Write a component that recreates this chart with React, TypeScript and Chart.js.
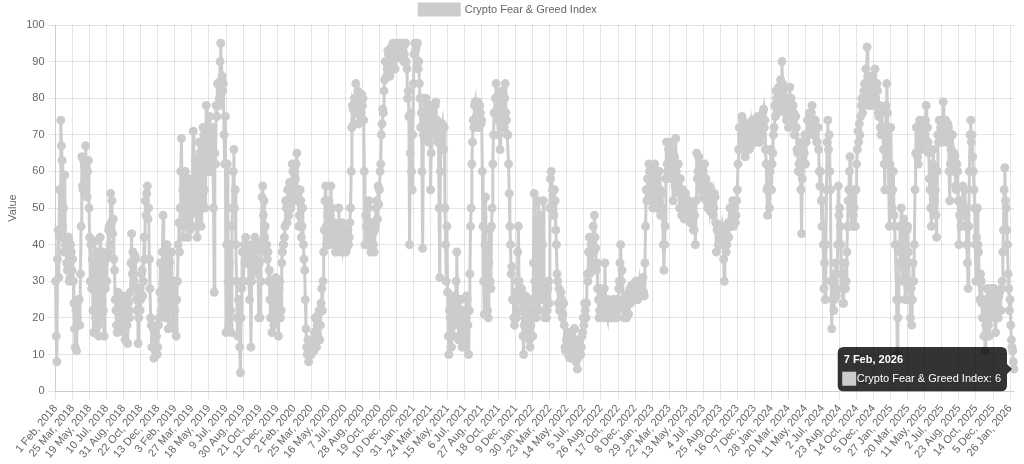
import React, { useEffect, useRef } from 'react';
import { Chart, registerables } from 'chart.js';

Chart.register(...registerables);

// ---- Categories (daily dates) ----
const START_DATE = '2018-02-01';
const END_DATE = '2026-02-07';
const MISSING_DATES = ['2018-04-14', '2018-04-15', '2018-04-16', '2025-01-01'];
const MONTHS = ['Jan', 'Feb', 'Mar', 'Apr', 'May', 'Jun', 'Jul', 'Aug', 'Sep', 'Oct', 'Nov', 'Dec'];
const MAX_X_TICKS = 57; // gives one shown date every 52 days
const SAMPLE_STEP = 2; // one reading every 2 days

const SERIES_NAME = 'Crypto Fear & Greed Index';

// ---- Series values (one reading every 2 days) ----
const FG_2018 = [
  30, 15, 8, 36, 44, 31, 55, 42, 74, 67, 63, 45, 50, 38, 59, 40, 40, 35, 33, 41, 42, 30, 31, 40, 38, 33,
  36, 30, 24, 17, 12, 22, 11, 20, 18, 25, 25, 18, 32, 45, 64, 56, 55, 63, 62, 54, 67, 60, 53, 60, 63, 50,
  42, 30, 40, 28, 36, 22, 16, 33, 41, 20, 25, 38, 30, 18, 15, 35, 42, 24, 20, 38, 35, 22, 15, 30, 28, 36,
  30, 37, 38, 44, 45, 40, 54, 46, 52, 43, 47, 36, 33, 25, 22, 18, 16, 27, 25, 17, 18, 26, 26, 17, 20, 25,
  22, 16, 14, 25, 26, 18, 13, 24, 22, 20, 27, 35, 43, 32, 38, 29, 30, 37, 36, 25, 22, 28, 13, 20, 28, 22,
  25, 32, 33, 26, 30, 42, 36, 52, 48, 54, 56, 47, 50, 36, 28, 20, 18, 12, 12, 17, 9, 14, 11, 18, 15, 10,
  12, 18, 20, 27, 35, 22, 25, 38, 48, 35, 30, 20, 22, 36, 40, 25, 17, 30, 35, 22, 24, 38, 18, 28, 30, 17,
];
const FG_2019 = [
  22, 30, 15, 25, 30, 40, 46, 38, 50, 60, 69, 50, 55, 42, 45, 56, 60, 48, 50, 58, 42, 52, 57, 44, 48, 55,
  45, 58, 71, 55, 50, 63, 60, 45, 42, 58, 55, 68, 65, 52, 45, 60, 62, 72, 70, 55, 50, 68, 78, 65, 72, 60,
  65, 75, 72, 60, 60, 72, 70, 50, 27, 65, 62, 78, 75, 84, 84, 78, 80, 90, 95, 85, 86, 82, 84, 70, 62, 75,
  16, 40, 62, 30, 18, 35, 40, 22, 16, 45, 50, 60, 66, 50, 55, 40, 30, 20, 15, 25, 20, 12, 5, 20, 28, 38,
  30, 38, 40, 35, 42, 36, 35, 40, 38, 30, 25, 35, 12, 30, 40, 34, 33, 40, 42, 36, 38, 41, 40, 32, 20, 35,
  20, 30, 40, 53, 56, 48, 52, 42, 45, 38, 40, 36, 38, 30, 33, 25, 20, 30, 16, 25, 28, 18, 20, 30, 31, 22,
  25, 20, 15, 28, 30, 20, 22, 35, 38, 40, 40, 42, 45, 52, 50, 46, 55, 50, 48, 57, 56, 50, 52, 62, 60, 53,
];
const FG_2020 = [
  52, 60, 58, 62, 65, 52, 55, 45, 48, 55, 52, 42, 45, 50, 40, 36, 33, 25, 17, 12, 10, 14, 8, 11, 12, 10,
  10, 13, 14, 11, 11, 16, 20, 12, 12, 18, 15, 21, 22, 14, 18, 24, 28, 22, 30, 38, 44, 52, 56, 45, 40, 48,
  45, 52, 40, 48, 56, 44, 50, 41, 42, 46, 40, 38, 38, 44, 45, 40, 50, 44, 42, 38, 40, 46, 44, 39, 40, 43,
  42, 38, 39, 43, 44, 40, 42, 46, 50, 60, 72, 78, 77, 73, 80, 76, 84, 78, 78, 82, 73, 79, 80, 75, 76, 81,
  78, 80, 74, 60, 40, 48, 45, 40, 42, 50, 52, 44, 44, 38, 40, 46, 43, 40, 38, 44, 45, 50, 52, 47, 56, 51,
  55, 60, 62, 70, 73, 77, 76, 82, 85, 90, 90, 86, 88, 93, 92, 87, 86, 92, 94, 89, 90, 95, 93, 88, 88, 94,
  92, 95, 95, 91, 94, 95, 95, 92, 93, 95, 95, 90, 92, 95, 95, 90, 88, 80, 82, 75, 40, 65, 76, 60, 55, 70,
];
const FG_2021 = [
  84, 92, 95, 93, 94, 95, 95, 88, 90, 84, 80, 72, 76, 60, 39, 70, 80, 75, 72, 80, 70, 76, 75, 68, 72, 78,
  55, 65, 70, 76, 76, 70, 72, 78, 79, 72, 74, 68, 70, 50, 31, 60, 68, 72, 73, 66, 66, 72, 50, 40, 30, 45,
  27, 15, 10, 22, 20, 12, 12, 24, 25, 15, 18, 26, 22, 30, 38, 25, 20, 14, 15, 25, 25, 16, 12, 20, 22, 14,
  22, 12, 15, 26, 25, 18, 10, 22, 32, 45, 50, 62, 68, 74, 72, 78, 79, 73, 75, 79, 79, 72, 74, 78, 76, 73,
  74, 60, 45, 30, 21, 40, 53, 35, 30, 22, 20, 35, 44, 30, 28, 45, 50, 62, 70, 76, 76, 80, 84, 75, 74, 80,
  70, 78, 66, 72, 75, 82, 80, 72, 72, 80, 84, 76, 74, 70, 70, 62, 54, 45, 40, 32, 34, 25, 25, 20, 18, 27,
  25, 20, 30, 38, 45, 30, 28, 22, 22, 28, 25, 15, 10, 18, 20, 26, 24, 15, 15, 22, 22, 14, 12, 18, 20, 25,
];
const FG_2022 = [
  15, 35, 54, 30, 25, 20, 30, 40, 52, 30, 22, 35, 48, 30, 25, 40, 52, 28, 20, 26, 25, 20, 22, 28, 30, 24,
  50, 58, 60, 50, 55, 48, 48, 55, 52, 44, 40, 32, 30, 24, 28, 22, 22, 27, 25, 20, 21, 24, 18, 12, 11, 14,
  12, 16, 10, 13, 13, 9, 10, 15, 15, 11, 12, 17, 17, 10, 8, 12, 6, 9, 10, 14, 14, 10, 12, 15, 16, 20,
  18, 24, 22, 20, 24, 32, 30, 38, 42, 32, 33, 40, 40, 34, 45, 38, 48, 42, 39, 33, 35, 28, 25, 20, 22, 28,
  22, 27, 25, 20, 20, 28, 35, 25, 24, 21, 20, 25, 22, 20, 20, 24, 24, 20, 21, 25, 20, 22, 23, 20, 20, 25,
  22, 28, 30, 35, 40, 30, 33, 24, 25, 20, 20, 26, 22, 20, 26, 21, 21, 27, 28, 24, 25, 29, 27, 25, 29, 26,
  27, 30, 28, 25, 25, 29, 30, 26, 26, 30, 29, 26, 31, 27, 26, 35, 45, 55, 52, 58, 55, 62, 60, 52, 56, 60,
];
const FG_2023 = [
  55, 50, 60, 55, 62, 52, 50, 60, 58, 50, 52, 60, 55, 48, 48, 54, 50, 40, 33, 40, 45, 58, 68, 62, 60, 66,
  62, 68, 65, 58, 60, 66, 52, 60, 64, 56, 69, 60, 55, 62, 62, 54, 50, 58, 55, 48, 48, 55, 52, 47, 50, 54,
  50, 47, 48, 52, 52, 47, 46, 50, 50, 46, 47, 44, 44, 48, 40, 52, 65, 58, 60, 64, 62, 56, 55, 60, 58, 53,
  60, 56, 62, 57, 58, 52, 55, 50, 52, 56, 54, 49, 50, 54, 52, 48, 50, 54, 53, 46, 38, 44, 45, 40, 40, 44,
  40, 44, 45, 40, 42, 36, 30, 40, 44, 38, 40, 45, 46, 42, 45, 50, 50, 45, 48, 52, 45, 48, 50, 46, 48, 52,
  55, 62, 66, 72, 72, 66, 70, 75, 74, 68, 68, 72, 64, 70, 72, 66, 70, 73, 66, 72, 73, 67, 70, 74, 74, 70,
  72, 68, 74, 70, 70, 75, 73, 68, 68, 74, 72, 70, 70, 76, 77, 72, 74, 66, 62, 55, 48, 56, 55, 50, 60, 66,
];
const FG_2024 = [
  55, 62, 65, 70, 72, 78, 75, 82, 80, 76, 78, 83, 82, 78, 85, 80, 90, 84, 82, 78, 80, 76, 78, 74, 76, 80,
  72, 78, 83, 76, 80, 74, 74, 78, 76, 70, 70, 75, 72, 66, 65, 60, 62, 68, 60, 55, 43, 58, 66, 62, 65, 70,
  62, 68, 70, 74, 74, 70, 76, 72, 72, 76, 78, 74, 74, 70, 70, 74, 72, 68, 68, 72, 66, 60, 56, 60, 52, 45,
  52, 40, 28, 35, 25, 40, 55, 68, 74, 66, 70, 60, 55, 30, 17, 25, 30, 22, 25, 32, 35, 26, 28, 40, 56, 48,
  50, 45, 40, 32, 28, 24, 24, 30, 35, 28, 30, 38, 45, 52, 55, 60, 64, 50, 45, 52, 55, 48, 50, 45, 45, 55,
  62, 66, 71, 68, 73, 70, 75, 78, 80, 76, 78, 82, 84, 80, 88, 84, 94, 86, 82, 78, 80, 86, 84, 78, 78, 82,
  80, 84, 88, 80, 78, 84, 82, 76, 75, 78, 72, 70, 76, 72, 70, 66, 62, 55, 72, 78, 84, 76, 66, 55, 45, 62,
];
const FG_2025 = [
  72, 60, 50, 55, 60, 48, 45, 40, 40, 25, 10, 20, 25, 35, 45, 38, 50, 40, 30, 38, 47, 35, 25, 30, 35, 44,
  45, 38, 30, 25, 20, 28, 18, 25, 35, 30, 40, 55, 65, 72, 72, 64, 62, 70, 74, 67, 68, 73, 70, 66, 74, 70,
  70, 74, 78, 72, 72, 68, 65, 58, 55, 50, 45, 55, 62, 66, 60, 52, 55, 48, 42, 60, 70, 68, 74, 70, 72, 68,
  68, 74, 79, 72, 72, 70, 74, 68, 70, 73, 72, 60, 52, 62, 66, 70, 70, 62, 60, 65, 64, 56, 55, 62, 60, 52,
  40, 48, 52, 45, 45, 52, 56, 48, 50, 55, 45, 50, 40, 35, 28, 45, 60, 70, 74, 68, 70, 64, 60, 55, 50, 40,
  30, 42, 50, 40, 38, 30, 25, 32, 30, 24, 20, 25, 15, 20, 11, 18, 22, 28, 25, 18, 15, 22, 20, 26, 28, 22,
  22, 26, 28, 20, 16, 22, 25, 20, 20, 26, 27, 22, 22, 28, 30, 38, 44, 55, 61, 52, 50, 44, 40, 32, 28, 22,
  25, 18, 14, 12, 11, 8, 6,
];

function buildLabels(): string[] {
  const out: string[] = [];
  const start = new Date(START_DATE + 'T00:00:00Z');
  const end = new Date(END_DATE + 'T00:00:00Z');
  for (let d = new Date(start); d <= end; d.setUTCDate(d.getUTCDate() + 1)) {
    const iso = d.toISOString().slice(0, 10);
    if (MISSING_DATES.includes(iso)) continue;
    out.push(`${d.getUTCDate()} ${MONTHS[d.getUTCMonth()]}, ${d.getUTCFullYear()}`);
  }
  return out;
}

export default function App() {
  const canvasRef = useRef<HTMLCanvasElement>(null);

  useEffect(() => {
    const labels = buildLabels();
    const values = [
      ...FG_2018, ...FG_2019, ...FG_2020, ...FG_2021,
      ...FG_2022, ...FG_2023, ...FG_2024, ...FG_2025,
    ];
    const points = values
      .map((v, i) => ({ x: labels[i * SAMPLE_STEP], y: v }))
      .filter((p) => p.x !== undefined);

    Chart.defaults.font.family = "Arial, 'Liberation Sans', Helvetica, sans-serif";
    Chart.defaults.font.size = 11;

    const gray = '#cccccc';
    const chart = new Chart(canvasRef.current as HTMLCanvasElement, {
      type: 'line',
      data: {
        labels,
        datasets: [
          {
            label: SERIES_NAME,
            data: points as any,
            borderColor: gray,
            backgroundColor: gray,
            pointBackgroundColor: gray,
            pointBorderColor: gray,
            borderWidth: 3,
            pointRadius: 3,
            fill: false,
            tension: 0,
          },
        ],
      },
      options: {
        animation: false,
        responsive: true,
        maintainAspectRatio: false,
        events: [],
        layout: { padding: { left: 2, right: 10 } },
        plugins: {
          legend: {
            display: true,
            position: 'top',
            labels: { color: '#666', boxWidth: 40 },
          },
          tooltip: { enabled: true },
        },
        scales: {
          x: {
            type: 'category',
            ticks: {
              autoSkip: true,
              autoSkipPadding: -3,
              maxTicksLimit: MAX_X_TICKS,
              minRotation: 50,
              maxRotation: 50,
              color: '#666',
            },
          },
          y: {
            min: 0,
            max: 100,
            ticks: { stepSize: 10, color: '#666' },
            title: { display: true, text: 'Value', color: '#666' },
          },
        },
      },
    });

    const last = points.length - 1;
    const el: any = chart.getDatasetMeta(0).data[last];
    if (el && chart.tooltip) {
      chart.tooltip.setActiveElements([{ datasetIndex: 0, index: last }], { x: el.x, y: el.y });
      chart.update();
    }

    return () => chart.destroy();
  }, []);

  return (
    <div style={{ position: 'absolute', left: 0, top: -6, width: 1024, height: 470 }}>
      <canvas ref={canvasRef} />
    </div>
  );
}
